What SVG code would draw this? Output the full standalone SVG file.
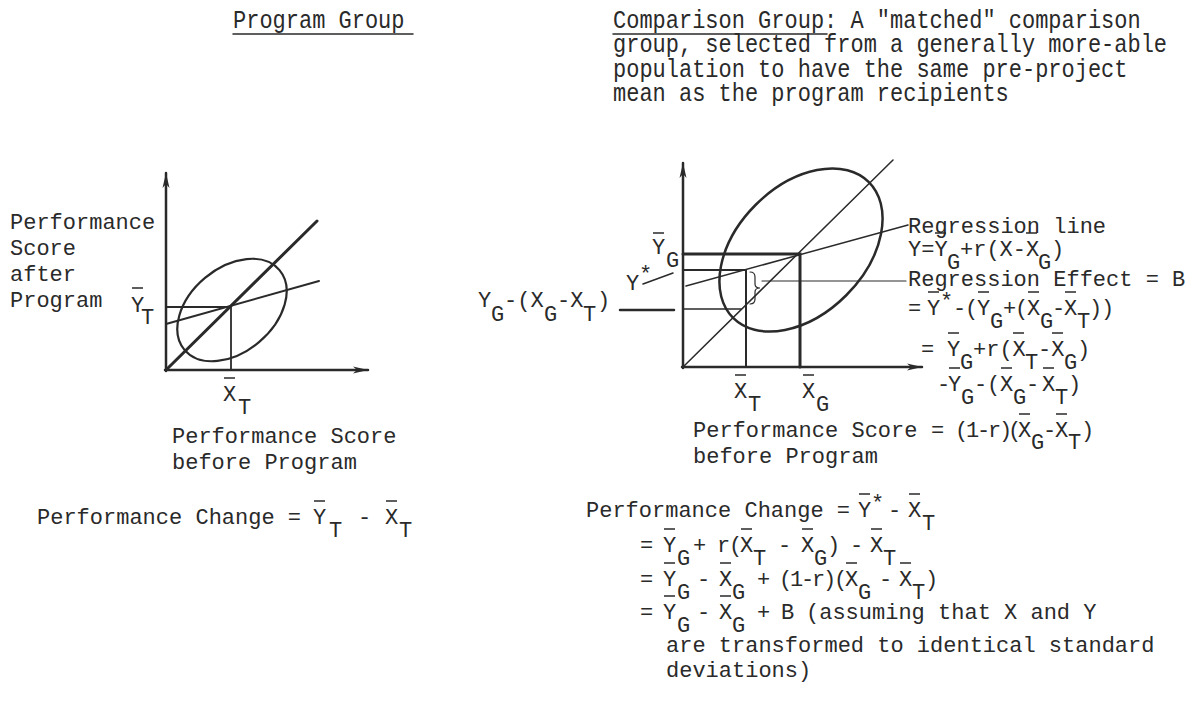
<svg xmlns="http://www.w3.org/2000/svg" width="1193" height="713" viewBox="0 0 1193 713">
<style>
.t{font-family:"Liberation Mono","DejaVu Sans Mono",monospace;font-size:22px;fill:#2a2a2a}
.ln{stroke:#2a2a2a;fill:none;stroke-linecap:round}
.ov{stroke:#2a2a2a;stroke-width:1.5;fill:none}
</style>
<defs>
<marker id="arr" markerUnits="userSpaceOnUse" markerWidth="16" markerHeight="8" refX="15" refY="4" orient="auto">
<path d="M0,0.5 L15,4 L0,7.5 L4,4 z" fill="#2a2a2a"/>
</marker>
</defs>
<rect width="1193" height="713" fill="#ffffff"/>

<g id="headings">
<text class="t" transform="translate(233,28) scale(1,1.2)">Program Group</text>
<line class="ln" x1="233" y1="34" x2="413" y2="34" stroke-width="1.5"/>
<text class="t" transform="translate(613,28) scale(1,1.2)">Comparison Group: A "matched" comparison</text>
<line class="ln" x1="613" y1="34" x2="827" y2="34" stroke-width="1.5"/>
<text class="t" transform="translate(613,52) scale(1,1.2)">group, selected from a generally more-able</text>
<text class="t" transform="translate(613,77) scale(1,1.2)">population to have the same pre-project</text>
<text class="t" transform="translate(613,101) scale(1,1.2)">mean as the program recipients</text>
</g>

<g id="left-chart">
<line class="ln" x1="166" y1="371" x2="166" y2="173" stroke-width="2.5" marker-end="url(#arr)"/>
<line class="ln" x1="165" y1="370" x2="368" y2="370" stroke-width="2.5" marker-end="url(#arr)"/>
<line class="ln" x1="166" y1="370" x2="317" y2="221" stroke-width="3"/>
<line class="ln" x1="166" y1="324" x2="319" y2="281" stroke-width="2"/>
<ellipse class="ln" cx="232" cy="310" rx="62" ry="42" transform="rotate(-40 232 310)" stroke-width="2.2"/>
<polyline class="ln" points="166,307 231,307 231,370" stroke-width="1.8"/>
</g>

<g id="left-labels">
<text class="t" x="10" y="229">Performance</text>
<text class="t" x="10" y="255">Score</text>
<text class="t" x="10" y="281">after</text>
<text class="t" x="10" y="307">Program</text>
<text class="t"><tspan x="131" y="312">Y</tspan><tspan x="141" y="324">T</tspan></text>
<text class="t"><tspan x="223" y="401">X</tspan><tspan x="238" y="414">T</tspan></text>
<text class="t" x="172" y="443">Performance Score</text>
<text class="t" x="172" y="469">before Program</text>
<text class="t"><tspan x="37" y="524">Performance Change =</tspan> <tspan x="313" y="524">Y</tspan><tspan x="329" y="537">T</tspan> <tspan x="358" y="524">-</tspan> <tspan x="385" y="524">X</tspan><tspan x="399" y="537">T</tspan></text>
</g>

<g id="right-chart">
<line class="ln" x1="683" y1="368" x2="683" y2="163" stroke-width="2.5" marker-end="url(#arr)"/>
<line class="ln" x1="682" y1="367" x2="922" y2="367" stroke-width="2.5" marker-end="url(#arr)"/>
<line class="ln" x1="683" y1="367" x2="893" y2="160" stroke-width="1.5"/>
<ellipse class="ln" cx="801" cy="250" rx="96" ry="64" transform="rotate(-45 801 250)" stroke-width="2.5"/>
<line class="ln" x1="686" y1="286" x2="908" y2="225" stroke-width="1.5"/>
<polyline class="ln" points="683,254 800,254 800,367" stroke-width="3"/>
<polyline class="ln" points="683,270 746,270 746,367" stroke-width="2"/>
<line class="ln" x1="683" y1="309" x2="741" y2="309" stroke-width="1.5"/>
<path class="ln" d="M750,272 q5,0 5,5 v7 q0,4 5,4 q-5,0 -5,4 v7 q0,5 -5,5" stroke-width="1.2"/>
</g>

<g id="connectors">
<line class="ln" x1="620" y1="310" x2="674" y2="310" stroke-width="2.5"/>
<line class="ln" x1="643" y1="284" x2="673" y2="273" stroke-width="1.5"/>
<line class="ln" x1="762" y1="281" x2="906" y2="281" stroke-width="1.2"/>
</g>

<g id="right-labels">
<text class="t"><tspan x="652" y="254">Y</tspan><tspan x="666" y="267">G</tspan></text>
<text class="t"><tspan x="626" y="290">Y</tspan><tspan x="639" y="281">*</tspan></text>
<text class="t"><tspan x="478" y="307">Y</tspan><tspan x="491" y="321">G</tspan><tspan x="504" y="307">-(X</tspan><tspan x="544" y="321">G</tspan><tspan x="557" y="307">-X</tspan><tspan x="583" y="321">T</tspan><tspan x="597" y="307">)</tspan></text>
<text class="t"><tspan x="734" y="398">X</tspan><tspan x="748" y="411">T</tspan></text>
<text class="t"><tspan x="802" y="398">X</tspan><tspan x="816" y="411">G</tspan></text>
<text class="t" x="693" y="437">Performance Score</text>
<text class="t" x="693" y="463">before Program</text>
</g>

<g id="regression-formulas">
<text class="t" x="908" y="233">Regression line</text>
<text class="t"><tspan x="908" y="256">Y=Y</tspan><tspan x="947" y="269">G</tspan><tspan x="960" y="256">+r(X-X</tspan><tspan x="1038" y="269">G</tspan><tspan x="1051" y="256">)</tspan></text>
<text class="t" x="908" y="286">Regression Effect = B</text>
<text class="t"><tspan x="908" y="315">=</tspan> <tspan x="927" y="315">Y</tspan><tspan x="940" y="308">*</tspan> <tspan x="953" y="315">-</tspan><tspan x="965" y="315">(</tspan><tspan x="977" y="315">Y</tspan><tspan x="990" y="328">G</tspan><tspan x="1003" y="315">+</tspan><tspan x="1015" y="315">(</tspan><tspan x="1027" y="315">X</tspan><tspan x="1040" y="328">G</tspan><tspan x="1052" y="315">-</tspan><tspan x="1064" y="315">X</tspan><tspan x="1077" y="328">T</tspan><tspan x="1089" y="315">)</tspan><tspan x="1101" y="315">)</tspan></text>
<text class="t"><tspan x="921" y="356">=</tspan> <tspan x="947" y="356">Y</tspan><tspan x="960" y="369">G</tspan><tspan x="973" y="356">+r(X</tspan><tspan x="1025" y="369">T</tspan><tspan x="1038" y="356">-X</tspan><tspan x="1064" y="369">G</tspan><tspan x="1077" y="356">)</tspan></text>
<text class="t"><tspan x="937" y="391">-</tspan><tspan x="948" y="391">Y</tspan><tspan x="961" y="404">G</tspan><tspan x="974" y="391">-</tspan><tspan x="987" y="391">(</tspan><tspan x="1000" y="391">X</tspan><tspan x="1013" y="404">G</tspan><tspan x="1026" y="391">-</tspan><tspan x="1042" y="391">X</tspan><tspan x="1055" y="404">T</tspan><tspan x="1068" y="391">)</tspan></text>
<text class="t"><tspan x="931" y="437">=</tspan> <tspan x="955" y="437">(</tspan><tspan x="966" y="437">1</tspan><tspan x="977" y="437">-</tspan><tspan x="988" y="437">r</tspan><tspan x="999" y="437">)</tspan><tspan x="1008" y="437">(</tspan><tspan x="1018" y="437">X</tspan><tspan x="1031" y="449">G</tspan><tspan x="1043" y="437">-</tspan><tspan x="1055" y="437">X</tspan><tspan x="1068" y="449">T</tspan><tspan x="1081" y="437">)</tspan></text>
</g>

<g id="change-formulas">
<text class="t"><tspan x="586" y="517">Performance Change =</tspan> <tspan x="858" y="517">Y</tspan><tspan x="871" y="510">*</tspan><tspan x="888" y="517">-</tspan> <tspan x="908" y="517">X</tspan><tspan x="922" y="530">T</tspan></text>
<text class="t"><tspan x="640" y="552">=</tspan> <tspan x="663" y="552">Y</tspan><tspan x="677" y="565">G</tspan> <tspan x="693" y="552">+</tspan> <tspan x="717" y="552">r</tspan><tspan x="729" y="552">(</tspan><tspan x="740" y="552">X</tspan><tspan x="753" y="565">T</tspan> <tspan x="778" y="552">-</tspan> <tspan x="801" y="552">X</tspan><tspan x="814" y="565">G</tspan><tspan x="827" y="552">)</tspan> <tspan x="850" y="552">-</tspan> <tspan x="870" y="552">X</tspan><tspan x="883" y="565">T</tspan></text>
<text class="t"><tspan x="640" y="586">=</tspan> <tspan x="663" y="586">Y</tspan><tspan x="677" y="599">G</tspan> <tspan x="697" y="586">-</tspan> <tspan x="719" y="586">X</tspan><tspan x="732" y="599">G</tspan> <tspan x="757" y="586">+</tspan> <tspan x="779" y="586">(</tspan><tspan x="790" y="586">1</tspan><tspan x="801" y="586">-</tspan><tspan x="812" y="586">r</tspan><tspan x="823" y="586">)</tspan><tspan x="834" y="586">(</tspan><tspan x="845" y="586">X</tspan><tspan x="858" y="599">G</tspan> <tspan x="879" y="586">-</tspan> <tspan x="899" y="586">X</tspan><tspan x="912" y="599">T</tspan><tspan x="925" y="586">)</tspan></text>
<text class="t"><tspan x="640" y="619">=</tspan> <tspan x="663" y="619">Y</tspan><tspan x="677" y="632">G</tspan> <tspan x="697" y="619">-</tspan> <tspan x="719" y="619">X</tspan><tspan x="732" y="632">G</tspan> <tspan x="757" y="619">+</tspan> <tspan x="781" y="619">B</tspan> <tspan x="806" y="619">(assuming that X and Y</tspan></text>
<text class="t" x="666" y="652">are transformed to identical standard</text>
<text class="t" x="666" y="677">deviations)</text>
</g>

<g id="overlines" class="ov" transform="translate(0,-2)">
<path d="M132,290h11 M224,380h11 M314,503h11 M386,503h11"/>
<path d="M653,235h11 M735,377h11 M803,377h11"/>
<path d="M935,235h11 M1026,235h11"/>
<path d="M928,294h11 M978,294h11 M1028,294h11 M1065,294h11"/>
<path d="M948,335h11 M1013,335h11 M1052,335h11"/>
<path d="M949,370h11 M1001,370h11 M1043,370h11"/>
<path d="M1019,416h11 M1056,416h11"/>
<path d="M859,496h11 M909,496h11"/>
<path d="M664,531h11 M741,531h11 M802,531h11 M871,531h11"/>
<path d="M664,565h11 M720,565h11 M846,565h11 M900,565h11"/>
<path d="M664,598h11 M720,598h11"/>
</g>
</svg>
